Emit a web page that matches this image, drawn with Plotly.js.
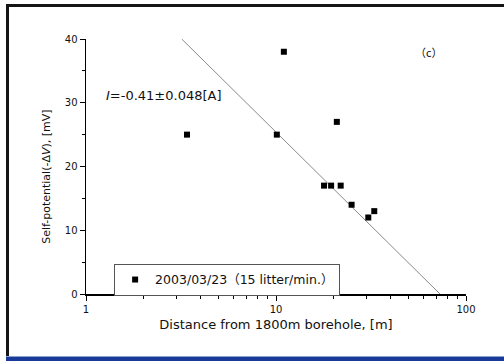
<!DOCTYPE html>
<html>
<head>
<meta charset="utf-8">
<script src="https://cdn.plot.ly/plotly-3.0.1.min.js"></script>
<style>
  html, body { margin: 0; padding: 0; background: #fff; }
  #wrap { position: relative; width: 504px; height: 361px; overflow: hidden; }
  #chart { position: absolute; left: 0; top: 0; width: 504px; height: 361px; }
  .frame { position: absolute; pointer-events: none; }
</style>
</head>
<body>
<div id="wrap">
  <div id="chart"></div>
  <div class="frame" style="left:6px; top:4px; width:498px; height:3px; background:#151515;"></div>
  <div class="frame" style="left:6px; top:4px; width:3px; height:357px; background:#151515;"></div>
  <div class="frame" style="left:6px; top:356px; width:498px; height:1px; background:#8aa0d0;"></div>
  <div class="frame" style="left:6px; top:357px; width:498px; height:4px; background:#1a3a9a;"></div>
</div>
<script>
// Measured data: distance [m] vs self-potential [mV]
const distance = [3.4, 11.0, 10.1, 20.9, 17.9, 19.5, 21.9, 25.0, 30.6, 32.9];
const potential = [25, 38, 25, 27, 17, 17, 17, 14, 12, 13];
const seriesName = "2003/03/23\uFF0815 litter/min.\uFF09";

// Fitted line endpoints (log-linear fit)
const fitX = [3.19, 73];
const fitY = [40, 0];

const xTickVals = [1, 10, 100];
const xTickText = ["1", "10", "100"];
const xMinorVals = [2, 3, 4, 5, 6, 7, 8, 9, 20, 30, 40, 50, 60, 70, 80, 90];
const yTickVals = [0, 10, 20, 30, 40];

const baseFont = "DejaVu Sans, Noto Sans CJK JP, sans-serif";

const traces = [
  {
    x: fitX, y: fitY, type: "scatter", mode: "lines",
    line: { color: "#8a8a8a", width: 1 },
    showlegend: false, hoverinfo: "skip"
  },
  {
    x: distance, y: potential, type: "scatter", mode: "markers",
    name: seriesName,
    marker: { symbol: "square", size: 6, color: "#000000" }
  }
];

const layout = {
  width: 504, height: 361,
  margin: { l: 86, r: 38, t: 39, b: 67, pad: 0 },
  paper_bgcolor: "rgba(0,0,0,0)",
  plot_bgcolor: "#ffffff",
  font: { family: baseFont, size: 10, color: "#111111" },
  showlegend: true,
  legend: {
    x: 0.074, y: 0.118, xanchor: "left", yanchor: "top",
    bgcolor: "#ffffff", bordercolor: "#555555", borderwidth: 1,
    font: { family: baseFont, size: 12.5, color: "#111111" },
    itemwidth: 30, tracegroupgap: 0
  },
  xaxis: {
    type: "log", range: [0, 2],
    showgrid: false, zeroline: false,
    showline: true, linecolor: "#000000", linewidth: 1.5,
    ticks: "outside", ticklen: 5, tickwidth: 1, tickcolor: "#000",
    tickmode: "array", tickvals: xTickVals, ticktext: xTickText,
    tickfont: { size: 10 },
    minor: { tickmode: "array", tickvals: xMinorVals, ticks: "outside", ticklen: 3, tickwidth: 1, tickcolor: "#000", showgrid: false },
    title: { text: "Distance from 1800m borehole, [m]", font: { size: 13 }, standoff: 6 }
  },
  yaxis: {
    range: [0, 40],
    showgrid: false, zeroline: false,
    showline: true, linecolor: "#000000", linewidth: 1.5,
    ticks: "outside", ticklen: 5, tickwidth: 1, tickcolor: "#000",
    tickmode: "array", tickvals: yTickVals,
    tickfont: { size: 10 },
    minor: { dtick: 5, ticks: "outside", ticklen: 3, tickwidth: 1, tickcolor: "#000", showgrid: false }
  },
  annotations: [
    {
      xref: "paper", yref: "paper", x: -0.103, y: 0.459,
      xanchor: "center", yanchor: "middle",
      text: "Self-potential(-\u0394<i>V</i>), [mV]", textangle: -90,
      showarrow: false, font: { size: 11 }
    },
    {
      xref: "x", yref: "y", x: 0.095, y: 31.1, xanchor: "left", yanchor: "middle",
      text: "<i>I</i>=-0.41\u00B10.048[A]", showarrow: false,
      font: { size: 13 }
    },
    {
      xref: "x", yref: "y", x: 1.805, y: 38, xanchor: "center", yanchor: "middle",
      text: "\uFF08c\uFF09", showarrow: false,
      font: { size: 11, family: "Noto Sans CJK JP, sans-serif" }
    }
  ]
};

Plotly.newPlot("chart", traces, layout, { displayModeBar: false, staticPlot: true });
</script>
</body>
</html>
